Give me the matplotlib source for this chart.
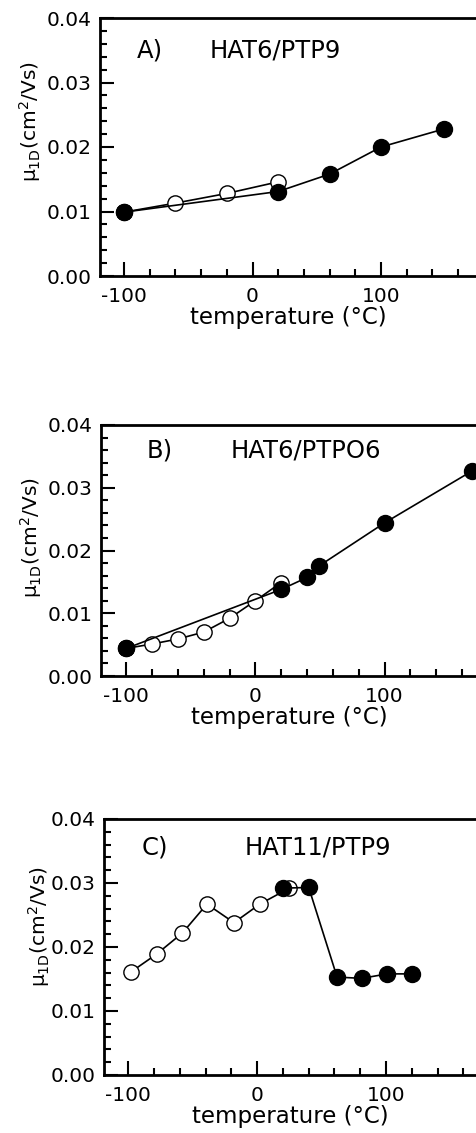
import matplotlib
matplotlib.use("Agg")
import matplotlib.pyplot as plt
from matplotlib.ticker import MultipleLocator, FormatStrFormatter

plt.rcParams["font.family"] = "DejaVu Sans"
plt.rcParams["axes.unicode_minus"] = False

# panel A) HAT6/PTP9
a_fill_x = [-100, 20, 60, 100, 149]
a_fill_y = [0.0099, 0.0131, 0.0158, 0.0200, 0.0228]
a_open_x = [-100, -60, -20, 20]
a_open_y = [0.0099, 0.0113, 0.0128, 0.0146]

# panel B) HAT6/PTPO6
b_fill_x = [-100, 20, 40, 49, 100, 168]
b_fill_y = [0.0044, 0.0138, 0.0157, 0.0175, 0.0244, 0.0327]
b_open_x = [-100, -80, -60, -40, -20, 0, 20]
b_open_y = [0.0044, 0.0051, 0.0059, 0.0070, 0.0092, 0.0120, 0.0149]

# panel C) HAT11/PTP9
c_fill_x = [20, 40, 62, 81, 101, 120]
c_fill_y = [0.0292, 0.0293, 0.0153, 0.0151, 0.0158, 0.0158]
c_open_x = [-98, -78, -58, -39, -18, 2, 25]
c_open_y = [0.0161, 0.0189, 0.0222, 0.0267, 0.0238, 0.0267, 0.0292]

panels = [
    ("A)", "HAT6/PTP9", a_fill_x, a_fill_y, a_open_x, a_open_y),
    ("B)", "HAT6/PTPO6", b_fill_x, b_fill_y, b_open_x, b_open_y),
    ("C)", "HAT11/PTP9", c_fill_x, c_fill_y, c_open_x, c_open_y),
]

# axes boxes in figure fraction
boxes = [
    [100 / 477, 1 - 276 / 1133, 377 / 477, 258 / 1133],
    [101 / 477, 1 - 676 / 1133, 376 / 477, 251 / 1133],
    [104 / 477, 1 - 1075 / 1133, 373 / 477, 256 / 1133],
]
xlims = [(-118.7, 174.7), (-119.6, 171.6), (-118.9, 170.6)]
letter_x = [-90, -84, -89.5]
name_x = [-33, -19, -9.5]
text_y = [0.0350, 0.0360, 0.0355]
ylabel_pos = [(-0.15, 0.60), (-0.152, 0.55), (-0.14, 0.58)]

fig = plt.figure(figsize=(4.77, 11.33), dpi=100)

for i, (letter, name, fx, fy, ox, oy) in enumerate(panels):
    ax = fig.add_axes(boxes[i])
    ax.plot(ox, oy, color="black", lw=1.2, zorder=2)
    ax.plot(ox, oy, "o", ms=11, mfc="white", mec="black", mew=1.0, zorder=3)
    ax.plot(fx, fy, color="black", lw=1.2, zorder=4)
    ax.plot(fx, fy, "o", ms=11.5, mfc="black", mec="black", zorder=5)
    if i < 2:
        # the cooling run starts from the first filled point
        ax.plot(fx[0], fy[0], "o", ms=11.5, mfc="black", mec="black", zorder=6)

    ax.set_xlim(*xlims[i])
    ax.set_ylim(0, 0.04)
    ax.xaxis.set_major_locator(MultipleLocator(100))
    ax.xaxis.set_minor_locator(MultipleLocator(20))
    ax.yaxis.set_major_locator(MultipleLocator(0.01))
    ax.yaxis.set_minor_locator(MultipleLocator(0.002))
    ax.yaxis.set_major_formatter(FormatStrFormatter("%.2f"))
    ax.tick_params(which="both", direction="in", width=1.5, labelsize=14.5)
    ax.tick_params(which="major", length=10)
    ax.tick_params(which="minor", length=5)
    ax.tick_params(axis="x", pad=8)
    ax.tick_params(axis="y", pad=6)
    for side in ["left", "bottom", "top"]:
        ax.spines[side].set_linewidth(2)
    ax.spines["right"].set_visible(False)

    ax.set_ylabel(r"$\mathregular{\mu_{1D}}$(cm$^2$/Vs)", fontsize=14.5)
    ax.yaxis.set_label_coords(*ylabel_pos[i])
    ax.set_xlabel("temperature (°C)", fontsize=16.5, labelpad=0)

    ax.text(letter_x[i], text_y[i], letter, fontsize=17.5, va="center")
    ax.text(name_x[i], text_y[i], name, fontsize=17.5, va="center")

fig.savefig("out.png", dpi=100)
